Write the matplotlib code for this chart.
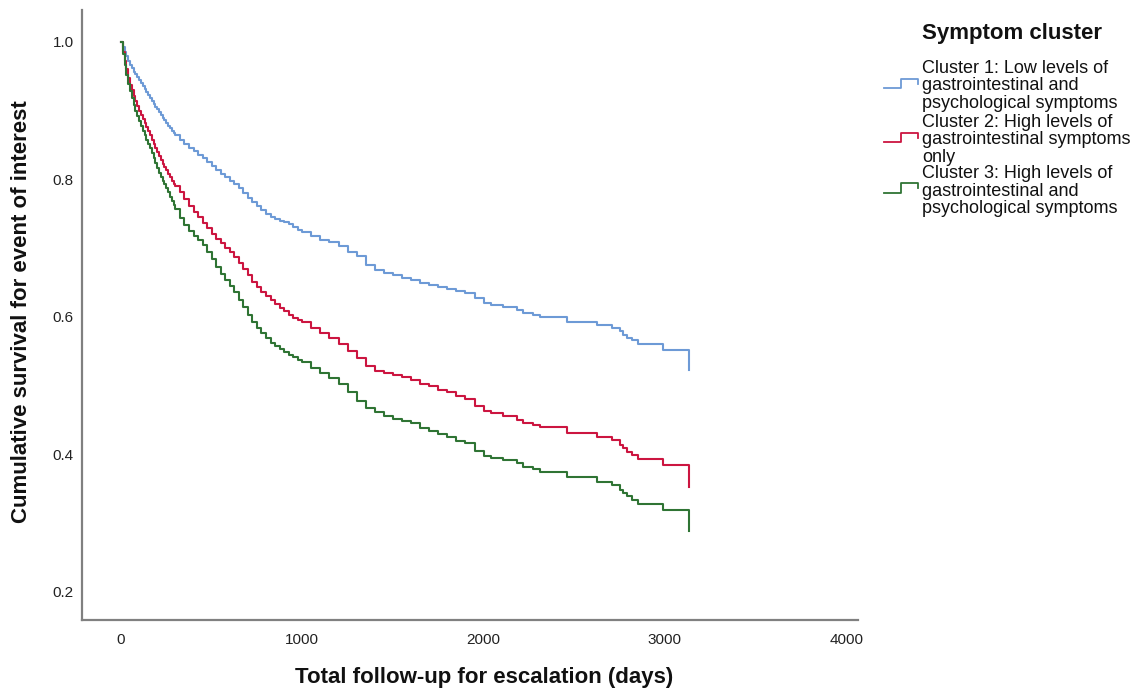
import matplotlib
matplotlib.use("Agg")
import matplotlib.pyplot as plt
from matplotlib.lines import Line2D

plt.rcParams['font.family'] = ['Liberation Sans', 'DejaVu Sans']

# follow-up time (days) shared by the three adjusted survival curves
days = [0, 10, 20, 30, 40, 50, 60, 70, 80, 90, 100, 110, 120, 130, 140, 150,
        160, 170, 180, 190, 200, 210, 220, 230, 240, 250, 260, 270, 280, 290, 300,
        325, 350, 375, 400, 425, 450, 475, 500, 525, 550, 575, 600, 625, 650,
        675, 700, 725, 750, 775, 800, 825, 850, 875, 900, 925, 950, 975, 1000,
        1050, 1100, 1150, 1200, 1250, 1300, 1350, 1400, 1450, 1500, 1550, 1600,
        1650, 1700, 1750, 1800, 1850, 1900, 1950, 2000,
        2040, 2109, 2182, 2219, 2274, 2311, 2458, 2624, 2706, 2752, 2771, 2789,
        2817, 2853, 2991, 3135]

surv_c1 = [1.000, 0.992, 0.985, 0.979, 0.973, 0.967, 0.962, 0.957, 0.953, 0.949,
           0.945, 0.940, 0.936, 0.931, 0.927, 0.923, 0.918, 0.914, 0.910, 0.906,
           0.902, 0.898, 0.894, 0.890, 0.886, 0.882, 0.878, 0.875, 0.871, 0.868,
           0.865,
           0.858, 0.852, 0.846, 0.841, 0.836, 0.831, 0.826, 0.820, 0.814, 0.808,
           0.803, 0.797, 0.793, 0.787, 0.780, 0.773, 0.767, 0.761, 0.755, 0.750,
           0.746, 0.743, 0.740, 0.738, 0.735, 0.731, 0.727, 0.723,
           0.717, 0.712, 0.709, 0.703, 0.695, 0.688, 0.675, 0.668, 0.664, 0.661,
           0.657, 0.654, 0.650, 0.647, 0.644, 0.641, 0.638, 0.635, 0.628, 0.620,
           0.617, 0.614, 0.610, 0.606, 0.603, 0.600, 0.593, 0.588, 0.584, 0.579,
           0.574, 0.570, 0.567, 0.560, 0.552, 0.523]

surv_c2 = [1.000, 0.986, 0.972, 0.960, 0.948, 0.938, 0.930, 0.922, 0.914, 0.907,
           0.900, 0.894, 0.888, 0.882, 0.876, 0.870, 0.864, 0.858, 0.852, 0.846,
           0.840, 0.834, 0.828, 0.823, 0.818, 0.813, 0.808, 0.803, 0.798, 0.794,
           0.790,
           0.781, 0.772, 0.762, 0.753, 0.745, 0.737, 0.729, 0.721, 0.714, 0.707,
           0.700, 0.694, 0.687, 0.679, 0.670, 0.661, 0.651, 0.643, 0.636, 0.630,
           0.624, 0.619, 0.613, 0.608, 0.603, 0.599, 0.595, 0.592,
           0.584, 0.576, 0.569, 0.561, 0.550, 0.540, 0.529, 0.522, 0.518, 0.515,
           0.512, 0.508, 0.503, 0.499, 0.494, 0.490, 0.485, 0.480, 0.471, 0.463,
           0.460, 0.456, 0.450, 0.446, 0.443, 0.440, 0.431, 0.425, 0.421, 0.414,
           0.409, 0.404, 0.399, 0.393, 0.385, 0.352]

surv_c3 = [1.000, 0.983, 0.966, 0.952, 0.939, 0.928, 0.918, 0.909, 0.900, 0.892,
           0.885, 0.878, 0.871, 0.864, 0.858, 0.852, 0.845, 0.838, 0.831, 0.824,
           0.817, 0.810, 0.804, 0.798, 0.793, 0.787, 0.781, 0.775, 0.769, 0.763,
           0.757,
           0.744, 0.733, 0.725, 0.718, 0.712, 0.704, 0.694, 0.684, 0.673, 0.663,
           0.654, 0.645, 0.636, 0.625, 0.614, 0.603, 0.592, 0.584, 0.576, 0.569,
           0.562, 0.558, 0.553, 0.549, 0.545, 0.541, 0.537, 0.534,
           0.526, 0.518, 0.511, 0.502, 0.490, 0.478, 0.467, 0.461, 0.456, 0.452,
           0.449, 0.445, 0.439, 0.434, 0.429, 0.425, 0.420, 0.416, 0.405, 0.397,
           0.395, 0.392, 0.387, 0.381, 0.378, 0.375, 0.367, 0.360, 0.356, 0.348,
           0.344, 0.339, 0.334, 0.328, 0.319, 0.288]

labels = ["Cluster 1: Low levels of\ngastrointestinal and\npsychological symptoms",
          "Cluster 2: High levels of\ngastrointestinal symptoms\nonly",
          "Cluster 3: High levels of\ngastrointestinal and\npsychological symptoms"]
colors = ["#6d9ad6", "#cc1540", "#2f7434"]

W, H = 1145, 691
fig = plt.figure(figsize=(W / 100, H / 100), dpi=100)
ax = fig.add_axes([82 / W, 1 - 620 / H, (858 - 82) / W, (620 - 10) / H])

for s, c in zip([surv_c1, surv_c2, surv_c3], colors):
    ax.plot(days, s, drawstyle="steps-post", color=c, lw=1.5)

ax.set_xlim(-215, 4065)
ax.set_ylim(0.159, 1.0465)
ax.set_xticks([0, 1000, 2000, 3000, 4000])
ax.set_yticks([0.2, 0.4, 0.6, 0.8, 1.0])
ax.set_yticklabels(["0.2", "0.4", "0.6", "0.8", "1.0"])
ax.tick_params(length=0, labelsize=11, colors="#222222")
ax.tick_params(axis="x", pad=9)
ax.tick_params(axis="y", pad=6)
for side in ("top", "right"):
    ax.spines[side].set_visible(False)
for side in ("left", "bottom"):
    ax.spines[side].set_color("#808080")
    ax.spines[side].set_linewidth(1.6)

fig.text(484 / W, 1 - 678 / H, "Total follow-up for escalation (days)",
         ha="center", va="center", fontsize=16, fontweight="bold", color="#111111")
fig.text(22 / W, 1 - 312 / H, "Cumulative survival for event of interest",
         ha="center", va="center", rotation=90, fontsize=16, fontweight="bold",
         color="#111111")

# legend drawn by hand: title, step-shaped keys, three-line entries
fig.text(922 / W, 1 - 34 / H, "Symptom cluster", ha="left", va="center",
         fontsize=16, fontweight="bold", color="#111111")
entry_y = [86, 140, 191]
for lab, c, yc in zip(labels, colors, entry_y):
    fig.text(922 / W, 1 - yc / H, lab, ha="left", va="center", fontsize=13,
             linespacing=1.02, color="#111111")
    xs = [884, 901, 901, 918, 918]
    ys = [yc + 1.5, yc + 1.5, yc - 7.5, yc - 7.5, yc - 2.5]
    fig.add_artist(Line2D([x / W for x in xs], [1 - y / H for y in ys],
                          color=c, lw=1.3, transform=fig.transFigure))

fig.savefig("out.png", dpi=100)
